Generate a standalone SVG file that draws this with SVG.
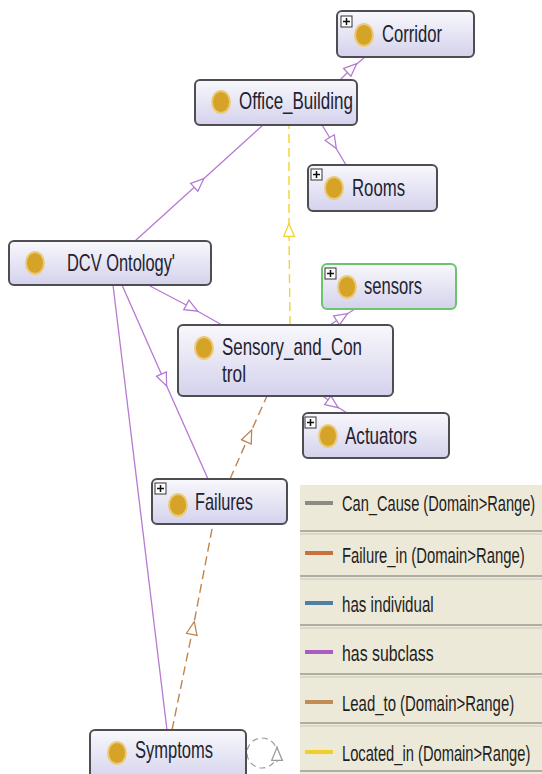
<svg xmlns="http://www.w3.org/2000/svg" width="542" height="774" viewBox="0 0 542 774">
<defs>
<linearGradient id="nodeGrad" x1="0" y1="0" x2="0" y2="1">
<stop offset="0" stop-color="#f8f8fc"/>
<stop offset="1" stop-color="#d4d2ec"/>
</linearGradient>
<marker id="arrPurple" viewBox="0 0 14 12" refX="7" refY="6" markerWidth="15" markerHeight="13" markerUnits="userSpaceOnUse" orient="auto">
<path d="M1,1 L13,6 L1,11 Z" fill="#ffffff" stroke="#b57ad2" stroke-width="1.2"/>
</marker>
<marker id="arrYellow" viewBox="0 0 14 12" refX="7" refY="6" markerWidth="15" markerHeight="13" markerUnits="userSpaceOnUse" orient="auto">
<path d="M1,1 L13,6 L1,11 Z" fill="#ffffff" stroke="#f0d430" stroke-width="1.2"/>
</marker>
<marker id="arrOrange" viewBox="0 0 14 12" refX="7" refY="6" markerWidth="15" markerHeight="13" markerUnits="userSpaceOnUse" orient="auto">
<path d="M1,1 L13,6 L1,11 Z" fill="#ffffff" stroke="#c0844e" stroke-width="1.2"/>
</marker>
<marker id="arrGray" viewBox="0 0 14 12" refX="7" refY="6" markerWidth="15" markerHeight="13" markerUnits="userSpaceOnUse" orient="auto">
<path d="M1,1 L13,6 L1,11 Z" fill="#ffffff" stroke="#9a9a9a" stroke-width="1.2"/>
</marker>
</defs>
<style>
.node{fill:url(#nodeGrad);stroke:#4e4e52;stroke-width:2}
.sel{stroke:#6cc46c}
.dot{fill:#d5a327;stroke:#eccb78;stroke-width:2}
.lbl{font-family:"Liberation Sans",Arial,sans-serif;font-size:24px;fill:#222230}
.leg{font-family:"Liberation Sans",Arial,sans-serif;font-size:22px;fill:#1e1e1e}
.plusbox{fill:#ffffff;stroke:#333;stroke-width:1}
.plus{stroke:#111;stroke-width:1.5}
.sub{fill:none;stroke:#b57ad2;stroke-width:1.3}
.loc{fill:none;stroke:#f0d430;stroke-width:1.4;stroke-dasharray:9 5}
.fail{fill:none;stroke:#c0844e;stroke-width:1.4;stroke-dasharray:9 5}
.cause{fill:none;stroke:#9a9a9a;stroke-width:1.2;stroke-dasharray:6 4}
.sep1{stroke:#9c9a90;stroke-width:1.5}
.sep2{stroke:#c9c6b8;stroke-width:1}
.sw{stroke-width:4}
</style>
<rect x="0" y="0" width="542" height="774" fill="#ffffff"/>

<g id="connectors">
<polyline class="sub" points="340,80 352,68 365,57" marker-mid="url(#arrPurple)"/>
<polyline class="sub" points="322,125 333,143 346,165" marker-mid="url(#arrPurple)"/>
<polyline class="sub" points="135,241 199,183 263,125" marker-mid="url(#arrPurple)"/>
<polyline class="sub" points="150,286 192,308 222,325" marker-mid="url(#arrPurple)"/>
<polyline class="sub" points="122,285 164,380 208,479" marker-mid="url(#arrPurple)"/>
<line class="sub" x1="113" y1="285" x2="167" y2="730"/>
<polyline class="sub" points="330,325 342,317 355,309" marker-mid="url(#arrPurple)"/>
<polyline class="sub" points="323,396 333,404 347,413" marker-mid="url(#arrPurple)"/>
<polyline class="loc" points="290,325 289,230 289,125" marker-mid="url(#arrYellow)"/>
<polyline class="fail" points="230,479 249,436 267,396" marker-mid="url(#arrOrange)"/>
<polyline class="fail" points="172,730 193,628 213,524" marker-mid="url(#arrOrange)"/>
<circle class="cause" cx="262" cy="753" r="15"/>
<polyline class="cause" points="277,762 277,754 277,746" style="stroke-dasharray:none" marker-mid="url(#arrGray)"/>
</g>

<g id="Corridor">
<rect class="node" x="337" y="11" width="137" height="46" rx="5"/>
<rect class="plusbox" x="341" y="16" width="11" height="11"/>
<line class="plus" x1="343" y1="21.5" x2="350" y2="21.5"/><line class="plus" x1="346.5" y1="18" x2="346.5" y2="25"/>
<ellipse class="dot" cx="364" cy="35" rx="9" ry="11"/>
<text class="lbl" x="382" y="42" textLength="60" lengthAdjust="spacingAndGlyphs">Corridor</text>
</g>

<g id="Office_Building">
<rect class="node" x="195" y="80" width="162" height="45" rx="5"/>
<ellipse class="dot" cx="221" cy="102" rx="9" ry="11"/>
<text class="lbl" x="239" y="109" textLength="114" lengthAdjust="spacingAndGlyphs">Office_Building</text>
</g>

<g id="Rooms">
<rect class="node" x="308" y="165" width="129" height="46" rx="5"/>
<rect class="plusbox" x="311" y="169" width="11" height="11"/>
<line class="plus" x1="313" y1="174.5" x2="320" y2="174.5"/><line class="plus" x1="316.5" y1="171" x2="316.5" y2="178"/>
<ellipse class="dot" cx="334" cy="188" rx="9" ry="11"/>
<text class="lbl" x="352" y="196" textLength="53" lengthAdjust="spacingAndGlyphs">Rooms</text>
</g>

<g id="DCV_Ontology">
<rect class="node" x="9" y="241" width="202" height="44" rx="5"/>
<ellipse class="dot" cx="35" cy="263" rx="9" ry="11"/>
<text class="lbl" x="67" y="271" textLength="108" lengthAdjust="spacingAndGlyphs">DCV Ontology'</text>
</g>

<g id="sensors">
<rect class="node sel" x="322" y="264" width="134" height="45" rx="5"/>
<rect class="plusbox" x="325" y="268" width="11" height="11"/>
<line class="plus" x1="327" y1="273.5" x2="334" y2="273.5"/><line class="plus" x1="330.5" y1="270" x2="330.5" y2="277"/>
<ellipse class="dot" cx="347" cy="287" rx="9" ry="11"/>
<text class="lbl" x="364" y="294" textLength="58" lengthAdjust="spacingAndGlyphs">sensors</text>
</g>

<g id="Sensory_and_Control">
<rect class="node" x="178" y="325" width="215" height="71" rx="5"/>
<ellipse class="dot" cx="204" cy="348" rx="9" ry="11"/>
<text class="lbl" x="222" y="355" textLength="140" lengthAdjust="spacingAndGlyphs">Sensory_and_Con</text>
<text class="lbl" x="222" y="382" textLength="24" lengthAdjust="spacingAndGlyphs">trol</text>
</g>

<g id="Actuators">
<rect class="node" x="303" y="413" width="146" height="45" rx="5"/>
<rect class="plusbox" x="305" y="417" width="11" height="11"/>
<line class="plus" x1="307" y1="422.5" x2="314" y2="422.5"/><line class="plus" x1="310.5" y1="419" x2="310.5" y2="426"/>
<ellipse class="dot" cx="328" cy="436" rx="9" ry="11"/>
<text class="lbl" x="345" y="444" textLength="72" lengthAdjust="spacingAndGlyphs">Actuators</text>
</g>

<g id="Failures">
<rect class="node" x="152" y="479" width="135" height="45" rx="5"/>
<rect class="plusbox" x="155" y="483" width="11" height="11"/>
<line class="plus" x1="157" y1="488.5" x2="164" y2="488.5"/><line class="plus" x1="160.5" y1="485" x2="160.5" y2="492"/>
<ellipse class="dot" cx="178" cy="505" rx="9" ry="11"/>
<text class="lbl" x="195" y="510" textLength="58" lengthAdjust="spacingAndGlyphs">Failures</text>
</g>

<g id="Symptoms">
<rect class="node" x="90" y="730" width="156" height="52" rx="5"/>
<ellipse class="dot" cx="117" cy="753" rx="9" ry="11"/>
<text class="lbl" x="135" y="758" textLength="78" lengthAdjust="spacingAndGlyphs">Symptoms</text>
</g>

<g id="legend">
<rect x="300" y="485" width="242" height="289" fill="#ece9d8"/>
<line class="sep1" x1="300" y1="531" x2="542" y2="531"/><line class="sep2" x1="300" y1="534" x2="542" y2="534"/>
<line class="sep1" x1="300" y1="576" x2="542" y2="576"/><line class="sep2" x1="300" y1="579" x2="542" y2="579"/>
<line class="sep1" x1="300" y1="625" x2="542" y2="625"/><line class="sep2" x1="300" y1="628" x2="542" y2="628"/>
<line class="sep1" x1="300" y1="674" x2="542" y2="674"/><line class="sep2" x1="300" y1="677" x2="542" y2="677"/>
<line class="sep1" x1="300" y1="723" x2="542" y2="723"/><line class="sep2" x1="300" y1="726" x2="542" y2="726"/>
<line class="sep1" x1="300" y1="771" x2="542" y2="771"/>
<line class="sw" x1="305" y1="503" x2="333" y2="503" stroke="#8c8b82"/>
<text class="leg" transform="translate(342,511) scale(0.7,1)" x="0" y="0" textLength="276" lengthAdjust="spacingAndGlyphs">Can_Cause (Domain&gt;Range)</text>
<line class="sw" x1="305" y1="553" x2="333" y2="553" stroke="#c8713a"/>
<text class="leg" transform="translate(342,563) scale(0.7,1)" x="0" y="0" textLength="261" lengthAdjust="spacingAndGlyphs">Failure_in (Domain&gt;Range)</text>
<line class="sw" x1="305" y1="603" x2="333" y2="603" stroke="#4f7ea6"/>
<text class="leg" transform="translate(342,612) scale(0.7,1)" x="0" y="0" textLength="131" lengthAdjust="spacingAndGlyphs">has individual</text>
<line class="sw" x1="305" y1="652" x2="333" y2="652" stroke="#a65ec4"/>
<text class="leg" transform="translate(342,661) scale(0.7,1)" x="0" y="0" textLength="131" lengthAdjust="spacingAndGlyphs">has subclass</text>
<line class="sw" x1="305" y1="702" x2="333" y2="702" stroke="#c38c55"/>
<text class="leg" transform="translate(342,711) scale(0.7,1)" x="0" y="0" textLength="246" lengthAdjust="spacingAndGlyphs">Lead_to (Domain&gt;Range)</text>
<line class="sw" x1="305" y1="752" x2="333" y2="752" stroke="#f0d028"/>
<text class="leg" transform="translate(342,761) scale(0.7,1)" x="0" y="0" textLength="269" lengthAdjust="spacingAndGlyphs">Located_in (Domain&gt;Range)</text>
</g>
</svg>
